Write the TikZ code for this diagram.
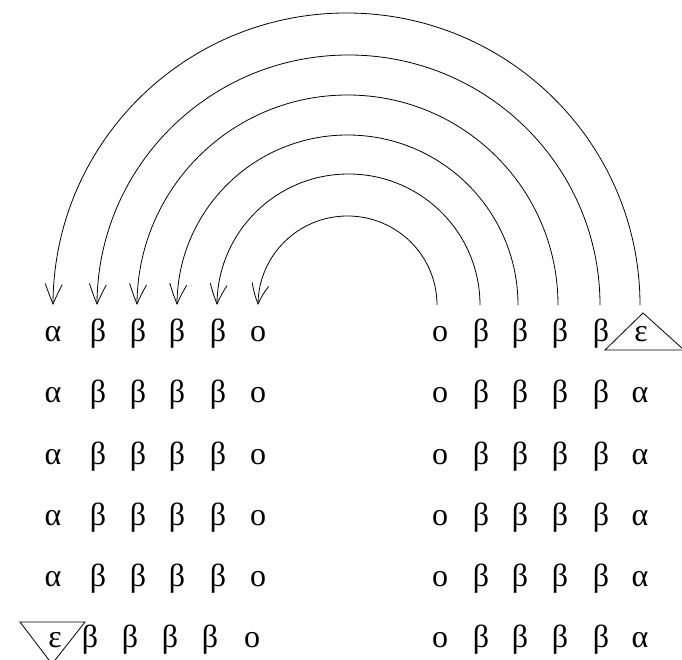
\documentclass[tikz,border=0pt]{standalone}
\usepackage{fontspec}
\setmainfont{Liberation Serif}
\usetikzlibrary{arrows.meta,bending}
\begin{document}
\begin{tikzpicture}[x=1pt,y=1pt,
  sym/.style={inner sep=0pt,anchor=base,font=\fontsize{32}{32}\selectfont},
  arcline/.style={line width=0.8pt,-{Straight Barb[length=20pt,width=17pt,line width=0.8pt,bend]}},
  tri/.style={line width=0.8pt}]
\useasboundingbox (0,0) rectangle (682,659);
% left block, rows 1-5
\foreach \y [count=\r] in {317,256,195,134,73}{
  \foreach \x/\t [count=\c] in {53/α,98/β,138/β,177/β,218/β,258/o}
    \node[sym] (L\r-\c) at (\x,\y) {\t};
}
% left block, row 6
\foreach \x/\t [count=\c] in {55/ε,90/β,130/β,170/β,210/β,252/o}
  \node[sym] (L6-\c) at (\x,12) {\t};
% right block, row 1
\foreach \x/\t [count=\c] in {440/o,481/β,520/β,560/β,601/β,641/ε}
  \node[sym] (R1-\c) at (\x,317) {\t};
% right block, rows 2-6
\foreach \y [count=\r from 2] in {256,195,134,73,12}{
  \foreach \x/\t [count=\c] in {440/o,481/β,520/β,560/β,601/β,640/α}
    \node[sym] (R\r-\c) at (\x,\y) {\t};
}
% triangles round the epsilons
\draw[tri] (605,309) -- (643,346) -- (684,309) -- cycle;
\draw[tri] (20,37) -- (85,37) -- (52,-5) -- cycle;
% arc start points
\coordinate (s1) at (640,354);
\coordinate (s2) at (600,354);
\coordinate (s3) at (558,354);
\coordinate (s4) at (518,354);
\coordinate (s5) at (480,354);
\coordinate (s6) at (437,354);
% arcs
\draw[arcline] (s1) arc[start angle=0,end angle=180,x radius=293.5,y radius=292];
\draw[arcline] (s2) arc[start angle=0,end angle=180,x radius=251.5,y radius=250];
\draw[arcline] (s3) arc[start angle=0,end angle=180,x radius=210.5,y radius=210];
\draw[arcline] (s4) arc[start angle=0,end angle=180,x radius=170.5,y radius=170];
\draw[arcline] (s5) arc[start angle=0,end angle=180,x radius=131.5,y radius=131];
\draw[arcline] (s6) arc[start angle=0,end angle=180,x radius=89.5,y radius=89];
\end{tikzpicture}
\end{document}
